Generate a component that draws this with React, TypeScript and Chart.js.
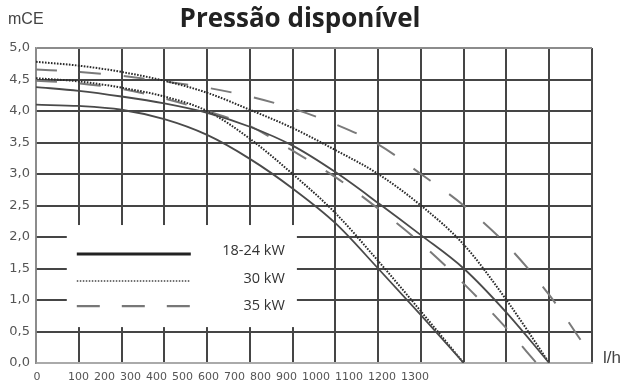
import React, { useEffect, useRef } from 'react';
import { Chart, registerables } from 'chart.js';

Chart.register(...registerables);

// ---- text ----
const TITLE = 'Pressão disponível';
const Y_UNIT = 'mCE';
const X_UNIT = 'l/h';
const xTickLabels = ['0', '100', '200', '300', '400', '500', '600', '700', '800', '900', '1000', '1100', '1200', '1300'];
const legendLabels = ['18-24 kW', '30 kW', '35 kW'];

// ---- data (flow l/h -> pressure mCE) ----
const flowTo1000 = [0, 100, 200, 300, 400, 500, 600, 700, 800, 900, 1000];
const flowTo1200 = [0, 100, 200, 300, 400, 500, 600, 700, 800, 900, 1000, 1100, 1200];
const flowTo1170 = [0, 100, 200, 300, 400, 500, 600, 700, 800, 900, 1000, 1100, 1170];
const flowTo1300 = [0, 100, 200, 300, 400, 500, 600, 700, 800, 900, 1000, 1100, 1200, 1300];

const solidLow = [4.1, 4.08, 4.02, 3.87, 3.62, 3.24, 2.77, 2.22, 1.5, 0.76, 0];
const solidHigh = [4.38, 4.32, 4.23, 4.12, 3.97, 3.75, 3.45, 3.03, 2.54, 2.03, 1.5, 0.8, 0];
const dottedLow = [4.52, 4.47, 4.37, 4.23, 4.0, 3.56, 3.0, 2.38, 1.62, 0.82, 0];
const dottedHigh = [4.78, 4.72, 4.62, 4.48, 4.29, 4.02, 3.73, 3.38, 3.0, 2.5, 1.88, 1.0, 0];
const dashedLow = [4.48, 4.44, 4.35, 4.2, 4.0, 3.76, 3.37, 2.95, 2.45, 1.9, 1.26, 0.55, 0];
const dashedHigh = [4.66, 4.62, 4.56, 4.47, 4.37, 4.23, 4.04, 3.79, 3.47, 3.0, 2.5, 1.88, 1.08, 0.1];

// ---- layout constants (data space box for legend) ----
const LEGEND_BOX = { xMin: 72, xMax: 610, yMin: 0.57, yMax: 2.19 };

const pts = (xs: number[], ys: number[]) => xs.map((x, i) => ({ x, y: ys[i] }));

const STYLE_SOLID = { borderColor: '#4a4a4a', borderWidth: 1.8, borderDash: [] as number[] };
const STYLE_DOTTED = { borderColor: '#2a2a2a', borderWidth: 2, borderDash: [1.6, 1.4] };
const STYLE_DASHED = { borderColor: '#7a7a7a', borderWidth: 2, borderDash: [21, 23] };

const LEGEND_STYLES = [
  { color: '#222', width: 3, dash: [] as number[] },
  { color: '#444', width: 1.5, dash: [1.5, 1.5] },
  { color: '#777', width: 2.2, dash: [23, 22] },
];

const textPlugin = {
  id: 'texts',
  beforeDatasetsDraw(chart: any) {
    const { ctx, scales } = chart;
    const x = scales.x;
    const y = scales.y;
    const left = x.getPixelForValue(LEGEND_BOX.xMin);
    const right = x.getPixelForValue(LEGEND_BOX.xMax);
    const top = y.getPixelForValue(LEGEND_BOX.yMax);
    const bottom = y.getPixelForValue(LEGEND_BOX.yMin);
    ctx.save();
    ctx.fillStyle = '#ffffff';
    ctx.fillRect(left, top, right - left, bottom - top);
    const rowsLine = [29, 56, 81];
    const rowsText = [26, 54, 81];
    legendLabels.forEach((lab, i) => {
      const st = LEGEND_STYLES[i];
      ctx.beginPath();
      ctx.strokeStyle = st.color;
      ctx.lineWidth = st.width;
      ctx.setLineDash(st.dash);
      ctx.moveTo(left + 10, top + rowsLine[i]);
      ctx.lineTo(left + 124, top + rowsLine[i]);
      ctx.stroke();
      ctx.setLineDash([]);
      ctx.fillStyle = '#333';
      ctx.font = '14.5px "Open Sans"';
      ctx.textAlign = 'right';
      ctx.textBaseline = 'middle';
      ctx.fillText(lab, left + 218, top + rowsText[i]);
    });
    ctx.restore();
  },
  afterDraw(chart: any) {
    const { ctx, scales, chartArea } = chart;
    const x = scales.x;
    const y = scales.y;
    ctx.save();
    ctx.fillStyle = '#444';
    ctx.textBaseline = 'middle';
    ctx.font = '16px "Liberation Sans"';
    ctx.textAlign = 'left';
    ctx.fillText(Y_UNIT, 8, 20);
    ctx.font = '17px "Liberation Sans"';
    ctx.fillText(X_UNIT, chartArea.right + 11, y.getPixelForValue(0) - 5);
    // x tick labels
    ctx.fillStyle = '#555';
    ctx.font = '11px "DejaVu Sans"';
    const ly = chartArea.bottom + 14;
    const x0 = x.getPixelForValue(0);
    ctx.textAlign = 'center';
    ctx.fillText(xTickLabels[0], x0 + 1, ly);
    ctx.textAlign = 'left';
    let cx = x0 + 32;
    for (let i = 1; i < xTickLabels.length; i++) {
      ctx.fillText(xTickLabels[i], cx, ly);
      cx += ctx.measureText(xTickLabels[i]).width + 5;
    }
    ctx.restore();
  },
};

export default function App() {
  const ref = useRef<HTMLCanvasElement | null>(null);
  useEffect(() => {
    if (!ref.current) return;
    const edge = '#8c8c8c';
    const gridCol = '#454545';
    const chart = new Chart(ref.current, {
      type: 'line',
      data: {
        datasets: [
          { label: legendLabels[0], data: pts(flowTo1200, solidHigh), ...STYLE_SOLID },
          { label: legendLabels[0], data: pts(flowTo1000, solidLow), ...STYLE_SOLID },
          { label: legendLabels[1], data: pts(flowTo1200, dottedHigh), ...STYLE_DOTTED },
          { label: legendLabels[1], data: pts(flowTo1000, dottedLow), ...STYLE_DOTTED },
          { label: legendLabels[2], data: pts(flowTo1300, dashedHigh), ...STYLE_DASHED },
          { label: legendLabels[2], data: pts(flowTo1170, dashedLow), ...STYLE_DASHED },
        ].map((d) => ({ ...d, pointRadius: 0, fill: false, cubicInterpolationMode: 'monotone' as const })),
      },
      options: {
        animation: false,
        responsive: false,
        devicePixelRatio: 1,
        layout: { padding: { left: 8, right: 34, top: 0, bottom: 0 } },
        plugins: {
          legend: { display: false },
          tooltip: { enabled: false },
          title: {
            display: true,
            text: TITLE,
            color: '#222',
            font: { family: '"Open Sans"', size: 26, weight: 'bold' },
            padding: { top: 4, bottom: 12.8 },
          },
        },
        scales: {
          x: {
            type: 'linear',
            min: 0,
            max: 1300,
            ticks: { stepSize: 100, display: false },
            grid: {
              drawTicks: false,
              lineWidth: 2,
              color: (c: any) => (c.tick && c.tick.value === 0 ? edge : gridCol),
            },
            border: { display: true, color: '#aaaaaa', width: 2 },
            afterFit: (s: any) => {
              s.height = 21;
            },
          },
          y: {
            min: 0,
            max: 5,
            ticks: {
              stepSize: 0.5,
              padding: 6,
              color: '#555',
              font: { family: '"DejaVu Sans"', size: 13 },
              callback: (v: any) => Number(v).toFixed(1).replace('.', ','),
            },
            grid: {
              drawTicks: false,
              lineWidth: 2,
              color: (c: any) => (c.tick && (c.tick.value === 5 || c.tick.value === 0) ? edge : gridCol),
            },
            border: { display: true, color: edge, width: 1.5 },
            afterFit: (s: any) => {
              s.width = 28;
            },
          },
        },
      },
      plugins: [textPlugin],
    });
    return () => chart.destroy();
  }, []);
  return (
    <div style={{ position: 'fixed', left: 0, top: 0, width: 626, height: 384, background: '#fff' }}>
      <canvas ref={ref} width={626} height={384} />
    </div>
  );
}
